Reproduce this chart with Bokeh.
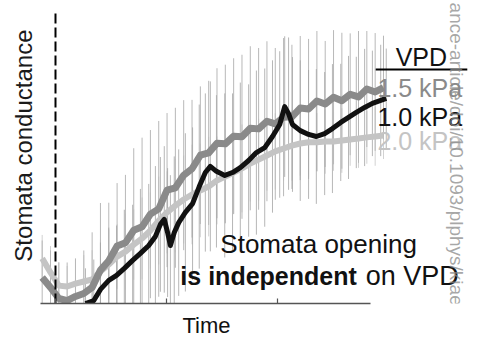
from bokeh.plotting import figure
from bokeh.models import Range1d, FixedTicker, ColumnDataSource, Title
from bokeh.core.properties import value
from bokeh.embed import file_html
from bokeh.resources import INLINE
import math

# ---------------- data ----------------
# time grid (arbitrary units, 0 = light switched on, dashed line)
t_grid = [-2.4, -0.9, 0.6, 2.1, 3.6, 5.1, 6.6, 8.1, 9.6, 11.1, 12.6, 14.1, 15.6, 17.1,
          18.6, 20.1, 21.6, 23.1, 24.6, 26.1, 27.6, 29.1, 30.6, 32.1, 33.6, 35.1, 36.6,
          38.1, 39.6, 41.1, 42.6, 44.1, 45.6, 47.1, 48.6, 50.1, 51.6, 53.1, 54.6, 56.1,
          57.6, 59.1]

# 1.5 kPa (dark grey)
gs_15 = [8.9, 5.5, 1.7, 1.0, 2.4, 3.4, 5.5, 11.4, 14.6, 19.6, 20.7, 25.0, 26.2, 30.5,
         32.3, 38.7, 39.5, 43.8, 46.0, 50.6, 51.4, 54.7, 54.5, 57.1, 56.9, 59.8, 59.6,
         62.2, 61.3, 63.6, 63.7, 66.7, 66.4, 69.1, 68.1, 70.4, 69.2, 71.4, 70.5, 73.2,
         72.2, 73.7]
se_15 = [12.6, 12.6, 12.3, 13.0, 13.0, 14.7, 18.8, 22.9, 19.8, 21.5, 23.2, 28.0, 30.4,
         28.7, 30.0, 26.3, 27.3, 25.6, 23.5, 23.5, 24.6, 25.6, 27.0, 26.6, 28.0, 28.0,
         27.6, 27.3, 25.9, 27.0, 24.6, 24.6, 23.9, 23.9, 21.5, 22.9, 23.2, 20.8, 22.5,
         19.8, 20.1, 17.7]

# 2.0 kPa (light grey)
gs_20 = [15.4, 10.6, 6.1, 5.8, 6.8, 7.5, 8.2, 10.9, 13.3, 16.0, 17.7, 20.1, 22.2, 24.9,
         28.3, 31.1, 33.4, 35.5, 37.2, 38.6, 39.9, 42.0, 43.3, 44.7, 46.1, 47.8, 49.1,
         50.5, 51.9, 52.9, 53.9, 54.6, 55.0, 55.0, 55.3, 55.3, 55.6, 56.0, 56.3, 56.7,
         57.0, 57.3]
se_20 = [8, 9, 8, 7, 8, 9, 10, 11, 12, 11, 13, 12, 14, 13, 15, 14, 16, 15, 17, 16, 17,
         15, 16, 14, 15, 13, 14, 12, 13, 11, 12, 11, 12, 10, 11, 10, 11, 9, 10, 9, 10, 8]

# 1.0 kPa (black) - own time points
t_10 = [5.4, 6.9, 8.1, 9.6, 11.0, 12.4, 13.9, 15.3, 16.8, 18.0, 18.9, 19.6, 20.2, 20.7,
        21.4, 22.2, 23.4, 24.7, 25.9, 27.0, 27.9, 29.0, 30.5, 31.9, 33.3, 34.8, 36.2,
        37.7, 39.1, 40.4, 41.3, 42.0, 42.7, 44.1, 45.6, 47.0, 48.5, 49.9, 51.4, 52.8,
        54.2, 55.7, 57.1, 58.6, 59.6]
gs_10 = [0.0, 1.0, 4.8, 7.9, 9.6, 12.0, 14.7, 17.1, 19.8, 22.9, 27.0, 28.7, 24.2, 19.8,
         24.2, 27.6, 31.1, 34.1, 39.9, 44.7, 46.8, 45.1, 43.7, 44.7, 46.4, 48.8, 51.5,
         53.2, 57.0, 61.1, 67.2, 64.8, 61.1, 59.0, 57.7, 57.0, 58.0, 59.7, 61.8, 63.5,
         65.2, 66.9, 68.3, 69.3, 70.0]
se_10 = [12, 14, 16, 18, 17, 20, 19, 22, 21, 24, 23, 25, 22, 24, 26, 25, 27, 26, 28, 27,
         29, 26, 28, 27, 29, 26, 28, 27, 26, 25, 24, 26, 23, 24, 22, 23, 21, 22, 20, 21,
         19, 20, 18, 19, 17]

series_labels = ["1.5 kPa", "1.0 kPa", "2.0 kPa"]
light_on = 0.0
x_ticks = [0, 20, 40]

# ---------------- figure ----------------
p = figure(width=478, height=339, x_range=Range1d(-9.91, 76.22), y_range=Range1d(0, 103.41),
           output_backend="svg", toolbar_location=None,
           min_border_left=0, min_border_right=0, min_border_top=0, min_border_bottom=36)
p.outline_line_color = None
p.grid.visible = False
p.yaxis.visible = False
xa = p.xaxis[0]
xa.bounds = (-2.7, 56.8)
xa.ticker = FixedTicker(ticks=x_ticks, minor_ticks=x_ticks)
# visible ticks point inwards (drawn as minor ticks); the invisible major ticks
# reserve room below the axis line for the "Time" title
xa.major_tick_in = 0
xa.major_tick_out = 9
xa.major_tick_line_color = None
xa.minor_tick_in = 5
xa.minor_tick_out = 0
xa.minor_tick_line_color = "#555555"
xa.minor_tick_line_width = 1.2
xa.major_label_overrides = {0: "", 20: "", 40: ""}
xa.major_label_text_font_size = "1px"
xa.major_label_standoff = 0
xa.axis_line_color = "#555555"
xa.axis_line_width = 1.3

p.add_layout(Title(text="Time", align="left", offset=182, standoff=0, vertical_align="top",
                   text_font="Liberation Sans", text_font_size="22px",
                   text_font_style="normal", text_color="#111111"), "below")

C15, C10, C20 = "#8a8a8a", "#111111", "#c4c4c4"

def bars(t, g, s):
    return ColumnDataSource(dict(x=t, lo=[max(0.0, a - b) for a, b in zip(g, s)],
                                 hi=[a + b for a, b in zip(g, s)]))

p.segment(x0="x", y0="lo", x1="x", y1="hi", source=bars(t_grid, gs_20, se_20),
          line_color="#d2d2d2", line_width=1)
p.segment(x0="x", y0="lo", x1="x", y1="hi", source=bars(t_grid, gs_15, se_15),
          line_color="#b8b8b8", line_width=1)
p.segment(x0="x", y0="lo", x1="x", y1="hi", source=bars(t_10, gs_10, se_10),
          line_color="#a4a4a4", line_width=1, line_alpha=0.8)

p.line(t_grid, gs_20, line_color=C20, line_width=6, line_join="round")
p.line(t_grid, gs_15, line_color=C15, line_width=7, line_join="round")
p.line(t_10, gs_10, line_color=C10, line_width=5, line_join="round")

# dashed vertical line at light on
p.segment(x0=[light_on], y0=[0], x1=[light_on], y1=[99.3], line_color="black",
          line_width=2, line_dash="10 4")

FONT = value("Liberation Sans")
# y label
p.text(x=[-5.76], y=[53.9], text=["Stomata conductance"], angle=math.pi / 2,
       text_align="center", text_baseline="alphabetic", text_font=FONT,
       text_font_size="24px", text_color="#1a1a1a")

# annotation
p.text(x=[29.7], y=[20.2], text=["Stomata opening"], text_align="left",
       text_baseline="alphabetic", text_font=FONT, text_font_size="26px", text_color="#111111")
p.text(x=[22.5], y=[9.5], text=["is independent"], text_align="left",
       text_baseline="alphabetic", text_font=FONT, text_font_size="25px",
       text_font_style="bold", text_color="#111111")
p.text(x=[55.9], y=[9.5], text=["on VPD"], text_align="left",
       text_baseline="alphabetic", text_font=FONT, text_font_size="27px", text_color="#111111")

# legend
p.text(x=[61.3], y=[84.0], text=["VPD"], text_align="left", text_baseline="alphabetic",
       text_font=FONT, text_font_size="25px", text_color="#111111")
p.segment(x0=[57.7], y0=[79.9], x1=[74.2], y1=[79.9], line_color="black", line_width=2)
p.text(x=[58.0, 58.0, 58.0], y=[73.4, 63.6, 55.3], text=series_labels, text_align="left",
       text_baseline="alphabetic", text_font=FONT, text_font_size="25px",
       text_color=[C15, C10, C20])

# journal watermark
p.text(x=[72.2], y=[102.7], text=["ance-article/doi/10.1093/plphys/kiae"], angle=-math.pi / 2,
       text_align="left", text_baseline="alphabetic", text_font=FONT,
       text_font_size="19px", text_color="#8a8a8a", text_alpha=0.75)

open("out.html", "w").write(file_html(p, INLINE))
